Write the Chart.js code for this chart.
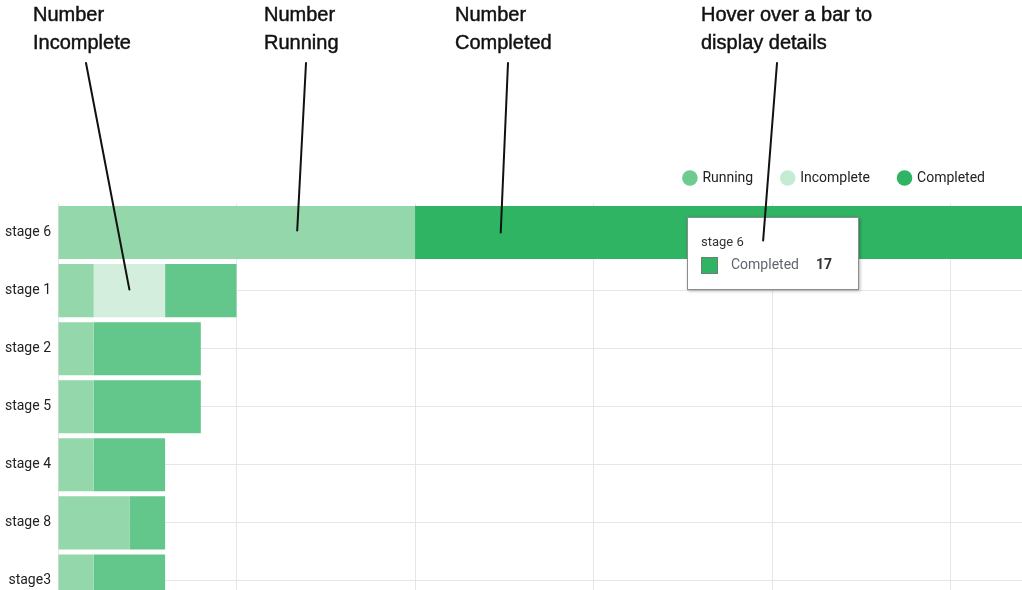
<!DOCTYPE html>
<html>
<head>
<meta charset="utf-8">
<script src="https://cdn.jsdelivr.net/npm/chart.js@4.4.1/dist/chart.umd.min.js"></script>
<style>
    html, body { margin: 0; padding: 0; background: #fff; overflow: hidden; }
    #wrap { position: relative; width: 1022px; height: 590px; overflow: hidden; }
    #box { position: absolute; left: 0; top: 0; width: 1022px; height: 610px; }
    .note { position: absolute; top: 0; font: 20px "Liberation Sans", Arial, sans-serif; line-height: 28px; color: #111;
            white-space: nowrap; -webkit-text-stroke: 0.45px #111; }
    #tip { position: absolute; left: 687px; top: 217px; width: 170px; height: 71px; background: #fff;
           border: 1px solid #8c8c8c; box-shadow: 1px 1px 3px rgba(0,0,0,0.3); font-family: Roboto, sans-serif; }
    #tip span { position: absolute; white-space: nowrap; }
    #tip .title { left: 13px; top: 17px; font-size: 13px; line-height: 13px; color: #333; }
    #tip .swatch { left: 13px; top: 39px; width: 15px; height: 15px; background: #2eb463; border: 1px solid #6f7f74; }
    #tip .name { left: 43px; top: 39px; font-size: 14px; line-height: 14px; color: #5f6670; }
    #tip .val { left: 128px; top: 39px; font-size: 14px; line-height: 14px; color: #333; font-weight: bold; }
    #lines { position: absolute; left: 0; top: 0; width: 1022px; height: 590px; pointer-events: none; }
</style>
</head>
<body>
<div id="wrap">
    <div id="box"><canvas id="stages-chart"></canvas></div>

    <div class="note" style="left: 33px;">Number<br>Incomplete</div>
    <div class="note" style="left: 264px;">Number<br>Running</div>
    <div class="note" style="left: 455px;">Number<br>Completed</div>
    <div class="note" style="left: 701px;">Hover over a bar to<br>display details</div>

    <div id="tip">
        <span class="title">stage 6</span>
        <span class="swatch"></span>
        <span class="name">Completed</span>
        <span class="val">17</span>
    </div>

    <svg id="lines" xmlns="http://www.w3.org/2000/svg"></svg>
</div>

<script>
// datos
const categories = ['stage 6', 'stage 1', 'stage 2', 'stage 5', 'stage 4', 'stage 8', 'stage3'];
const seriesNames = ['Running', 'Incomplete', 'Completed'];
const running = [10, 1, 1, 1, 1, 2, 1];
const incomplete = [0, 2, 0, 0, 0, 0, 0];
const completed = [17, 2, 3, 3, 2, 1, 2];
const xTicks = [0, 5, 10, 15, 20, 25];
const xMax = 27;

// the bar under the mouse in the screenshot
const hoveredIndex = 0;

// colores
const barColors = ['#93d7ab', '#d3eedd', '#63c68a'];
const hoverColor = '#2eb463';
const legendColors = ['#6ccb8f', '#c4ebd3', '#2eb463'];
const gridColor = '#e6e6e6';

// pointer lines: start under the caption, end on a category / value
const pointers = [
    { from: [86, 63], cat: 1, value: 2, dy: -1 },
    { from: [306, 63], cat: 0, value: 6.7, dy: -2 },
    { from: [508, 63], cat: 0, value: 12.4, dy: 0 },
    { from: [777, 63], cat: 0, value: 19.75, dy: 8 },
];

const seriesValues = [running, incomplete, completed];

const datasets = seriesNames.map((name, s) => ({
    label: name,
    data: seriesValues[s],
    backgroundColor: seriesValues[s].map((v, i) =>
        (s === 2 && i === hoveredIndex) ? hoverColor : barColors[s]),
    borderWidth: 0,
    categoryPercentage: 1,
    barPercentage: 0.914,
}));

// legend sits a bit left of the edge and a bit above the plot
const legendNudge = {
    id: 'legendNudge',
    afterLayout(chart) {
        const lg = chart.legend;
        lg.left -= 8; lg.right -= 8;
        lg.top -= 8.5; lg.bottom -= 8.5;
    }
};

// dibujar las líneas de las notas
const svgNS = 'http://www.w3.org/2000/svg';
const svg = document.getElementById('lines');
const lineEls = pointers.map(() => {
    const l = document.createElementNS(svgNS, 'line');
    l.setAttribute('stroke', '#111');
    l.setAttribute('stroke-width', '2');
    l.setAttribute('stroke-linecap', 'round');
    svg.appendChild(l);
    return l;
});

const pointerLines = {
    id: 'pointerLines',
    afterDraw(chart) {
        const xs = chart.scales.x;
        const ys = chart.scales.y;
        pointers.forEach((p, i) => {
            lineEls[i].setAttribute('x1', p.from[0]);
            lineEls[i].setAttribute('y1', p.from[1]);
            lineEls[i].setAttribute('x2', xs.getPixelForValue(p.value));
            lineEls[i].setAttribute('y2', ys.getPixelForValue(p.cat) + p.dy);
        });
    }
};

const ctx = document.getElementById('stages-chart').getContext('2d');
const chart = new Chart(ctx, {
    type: 'bar',
    data: { labels: categories, datasets: datasets },
    options: {
        indexAxis: 'y',
        responsive: true,
        maintainAspectRatio: false,
        animation: false,
        layout: { autoPadding: false, padding: { top: 150.5, left: 0, right: 0, bottom: 0 } },
        scales: {
            x: {
                stacked: true,
                min: 0,
                max: xMax,
                afterBuildTicks: (scale) => { scale.ticks = xTicks.map(v => ({ value: v })); },
                afterFit: (scale) => { scale.height = 0; },
                ticks: { display: false },
                grid: { color: gridColor, drawTicks: false },
                border: { display: false },
            },
            y: {
                stacked: true,
                afterFit: (scale) => {
                    scale.width = 58;
                    scale.paddingTop = 0;
                    scale.paddingBottom = 0;
                },
                ticks: {
                    padding: 7,
                    color: '#222',
                    font: { family: 'Roboto', size: 14 },
                },
                grid: { color: gridColor, drawTicks: false, offset: false },
                border: { color: gridColor },
            },
        },
        plugins: {
            tooltip: { enabled: false },
            legend: {
                position: 'top',
                align: 'end',
                labels: {
                    usePointStyle: true,
                    pointStyle: 'circle',
                    boxWidth: 11,
                    boxHeight: 11,
                    padding: 29,
                    color: '#222',
                    font: { family: 'Roboto', size: 14 },
                    generateLabels: (c) => {
                        const items = Chart.defaults.plugins.legend.labels.generateLabels(c);
                        items.forEach((it, i) => {
                            it.fillStyle = legendColors[i];
                            it.strokeStyle = legendColors[i];
                            it.lineWidth = 0;
                        });
                        return items;
                    },
                },
            },
        },
    },
    plugins: [legendNudge, pointerLines],
});
</script>
</body>
</html>
